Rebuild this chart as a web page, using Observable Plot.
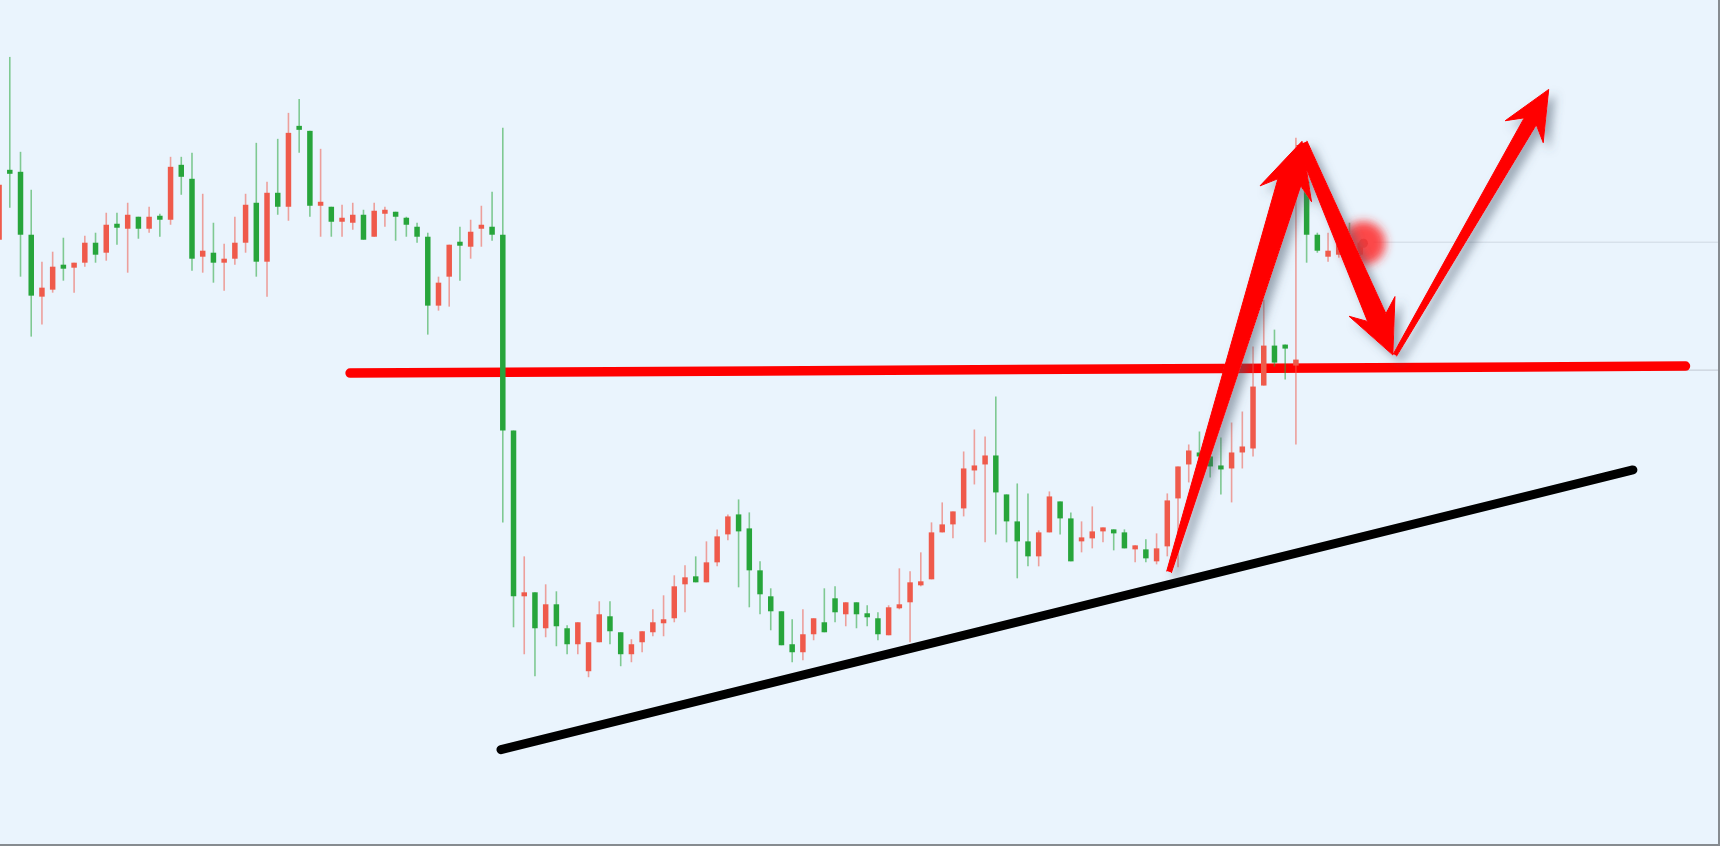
<!DOCTYPE html>
<html><head><meta charset="utf-8">
<script src="https://cdn.jsdelivr.net/npm/d3@7"></script>
<script src="https://cdn.jsdelivr.net/npm/@observablehq/plot@0.6"></script>
<style>
html,body{margin:0;padding:0;background:#eaf4fd;}
#chart{width:1720px;height:846px;box-sizing:border-box;border-right:2px solid #868b90;border-bottom:2px solid #868b90;overflow:hidden;position:relative;background:#eaf4fd;}
#chart svg{display:block;position:absolute;left:0;top:0;}
</style></head><body><div id="chart"></div>
<script>
// Candles (bar index starts at firstBar); prices in chart units
const firstBar = -1;
const opens = [
 606,676,674,611,549,556,581,578,583,603,
 593,622,617,629,617,630,626,681,667,589,
 593,583,587,603,643,584,653,639,720,715,
 640,639,624,623,631,609,632,634,628,619,
 609,540,569,604,599,617,619,611,415,249,
 253,217,241,217,201,174,203,229,213,191,
 203,213,222,227,261,269,263,283,311,331,
 317,275,249,234,201,193,211,223,247,231,
 243,232,227,210,237,243,260,266,313,321,
 337,375,381,390,351,324,304,289,313,344,
 327,304,307,314,316,313,296,296,284,299,
 347,381,393,389,380,377,393,397,460,500,
 501,480,664,611,589,591,606,591];
const highs = [
 676,789,694,656,584,594,608,583,610,613,
 633,633,643,629,639,632,689,689,693,652,
 623,602,629,652,703,664,707,733,747,715,
 697,639,641,643,636,643,639,634,629,623,
 613,569,601,619,626,640,654,718,415,289,
 253,261,254,220,223,203,244,244,213,206,
 214,236,250,270,280,289,304,316,331,346,
 333,284,257,234,226,236,227,257,259,243,
 243,240,233,240,277,274,293,323,343,334,
 394,416,409,449,351,362,352,315,354,344,
 333,324,339,318,316,316,300,306,312,352,
 379,401,414,399,408,423,434,499,546,516,
 501,708,673,613,613,623,623,603];
const lows = [
 574,638,569,509,521,553,565,553,579,583,
 585,601,573,607,613,609,621,651,575,573,
 563,555,581,593,569,549,631,625,693,629,
 609,609,609,616,606,609,619,605,609,603,
 511,535,539,565,587,599,605,323,218,191,
 169,208,199,191,191,168,203,201,179,183,
 193,209,209,223,233,263,263,279,305,258,
 238,231,215,200,183,185,205,213,223,219,
 217,219,205,210,236,203,259,266,313,307,
 329,361,303,311,303,267,279,279,313,311,
 284,293,297,303,295,297,283,283,281,289,
 278,363,366,368,351,343,377,389,460,479,
 466,401,583,593,584,588,589,589];
const closes = [
 661,672,611,550,558,579,577,583,603,591,
 621,618,631,617,629,626,679,669,587,595,
 583,587,603,641,584,653,639,713,716,640,
 644,624,628,631,606,635,636,629,621,609,
 540,563,601,600,614,621,611,415,249,253,
 217,241,219,201,223,203,231,214,191,201,
 214,223,226,259,268,263,283,309,329,314,
 275,251,234,200,193,211,227,213,233,243,
 231,228,211,238,241,263,264,313,321,334,
 377,380,390,353,324,304,289,313,349,327,
 284,308,314,318,312,297,300,287,297,345,
 379,395,389,379,376,393,399,459,500,483,
 497,486,611,595,595,601,602,603];

// Annotations (bar index, price)
const resistanceStart = [31.75, 473], resistanceEnd = [156.35, 480];
const supportStart = [45.83, 96], supportEnd = [151.44, 376];
const arrowFrom = [[108.17, 274], [120.57, 703], [129.24, 491]];
const arrowTo   = [[120.57, 705], [129.05, 491], [143.59, 757]];
const lastPrice = 604;
const lastBarMark = [126.3, 603];
const refLevel = 476;

const W = 1720, H = 846;
const xDomain = [-0.867, 159.43], yDomain = [0, 846];
const RED = "#ef5a4b", GREEN = "#27a53b";

const bars = opens.map((o, k) => ({i: k + firstBar, open: o, high: highs[k], low: lows[k], close: closes[k]}));
const col = d => d.close >= d.open ? RED : GREEN;

// arrow polygons computed in pixel space, converted back to data units
const xs = d3.scaleLinear().domain(xDomain).range([0, W]);
const ys = d3.scaleLinear().domain(yDomain).range([H, 0]);
const arrowStyle = [
  {w0: 5, w1: 24, hl: 48, hw: 27},
  {w0: 11, w1: 20, hl: 46, hw: 25},
  {w0: 4, w1: 14, hl: 42, hw: 22}
];
function arrowPolygon(from, to, s, id) {
  const T = [xs(from[0]), ys(from[1])], P = [xs(to[0]), ys(to[1])];
  const dx = P[0] - T[0], dy = P[1] - T[1], L = Math.hypot(dx, dy);
  const u = [dx / L, dy / L], n = [-u[1], u[0]];
  const B = [P[0] - s.hl * u[0], P[1] - s.hl * u[1]];
  const pt = (b, a, c) => [b[0] + a * u[0] + c * n[0], b[1] + a * u[1] + c * n[1]];
  const pts = [pt(T, 0, s.w0 / 2), pt(B, 5, s.w1 / 2), pt(B, -7, s.hw), P,
               pt(B, -7, -s.hw), pt(B, 5, -s.w1 / 2), pt(T, 0, -s.w0 / 2)];
  return pts.map(p => ({id, x: xs.invert(p[0]), y: ys.invert(p[1])}));
}
const arrowPts = arrowFrom.flatMap((f, k) => arrowPolygon(f, arrowTo[k], arrowStyle[k], k));

const plot = Plot.plot({
  width: W, height: H,
  margin: 0,
  x: {domain: xDomain, range: [0, W], axis: null},
  y: {domain: yDomain, range: [H, 0], axis: null},
  style: {background: "#eaf4fd", overflow: "hidden"},
  marks: [
    Plot.ruleY([lastPrice], {x1: lastBarMark[0] + 1, x2: xDomain[1], stroke: "#cfd8e2", strokeWidth: 1}),
    Plot.ruleY([refLevel], {x1: 108, x2: xDomain[1], stroke: "#c9d1da", strokeWidth: 1.2}),
    Plot.link([0], {x1: () => resistanceStart[0], y1: () => resistanceStart[1], x2: () => resistanceEnd[0], y2: () => resistanceEnd[1],
      stroke: "#ff0000", strokeWidth: 9.5, strokeLinecap: "round"}),
    Plot.link([0], {x1: () => supportStart[0], y1: () => supportStart[1], x2: () => supportEnd[0], y2: () => supportEnd[1],
      stroke: "#000000", strokeWidth: 9, strokeLinecap: "round"}),
    Plot.ruleX(bars, {x: "i", y1: "low", y2: "high", stroke: col, strokeWidth: 1.6, strokeOpacity: 0.55}),
    Plot.ruleX(bars, {x: "i", y1: "open", y2: "close", stroke: col, strokeWidth: 5.5}),
    Plot.dot([lastBarMark], {x: d => d[0], y: d => d[1], r: 22, fill: "#ff2a2a", fillOpacity: 0.85, stroke: "none"}),
    Plot.dot([lastBarMark], {x: d => d[0], y: d => d[1], r: 4.5, fill: "#f03a3a", stroke: "none"}),
    Plot.line(arrowPts, {x: "x", y: "y", z: "id", fill: "#ff0000", stroke: "#ff0000", strokeWidth: 1})
  ]
});

const svg = d3.select(plot);
const defs = svg.insert("defs", ":first-child");
const sh = defs.append("filter").attr("id", "ashadow").attr("x", "-30%").attr("y", "-30%").attr("width", "160%").attr("height", "160%");
sh.append("feDropShadow").attr("dx", 6).attr("dy", 6).attr("stdDeviation", 5).attr("flood-color", "#4b5a6b").attr("flood-opacity", 0.5);
const gl = defs.append("filter").attr("id", "glowblur").attr("x", "-100%").attr("y", "-100%").attr("width", "300%").attr("height", "300%");
gl.append("feGaussianBlur").attr("stdDeviation", 5);
const lineG = plot.querySelector('g[aria-label="line"]');
if (lineG) lineG.setAttribute("filter", "url(#ashadow)");
const dotG = plot.querySelector('g[aria-label="dot"]');
if (dotG) dotG.setAttribute("filter", "url(#glowblur)");

document.getElementById("chart").appendChild(plot);
</script>
</body></html>
